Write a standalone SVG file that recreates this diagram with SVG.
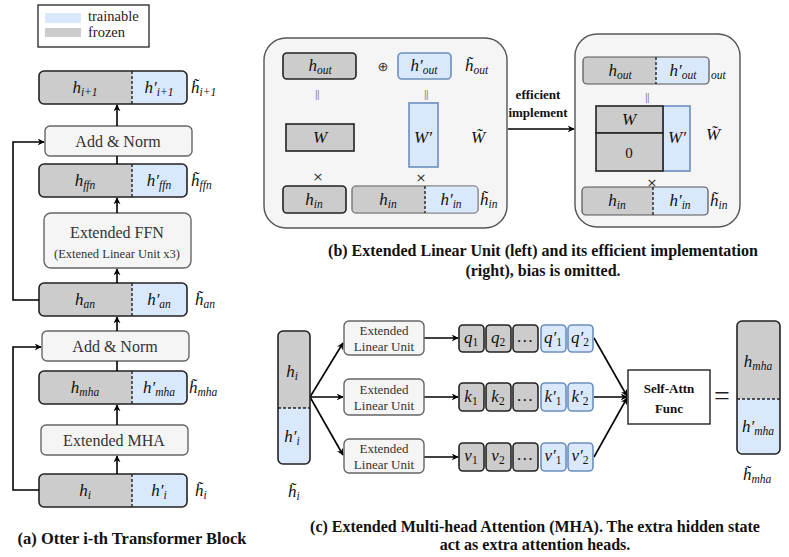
<svg xmlns="http://www.w3.org/2000/svg" width="789" height="557" viewBox="0 0 789 557">
<defs>
<marker id="ah" viewBox="0 0 10 10" refX="9" refY="5" markerWidth="7" markerHeight="7" orient="auto-start-reverse" markerUnits="userSpaceOnUse">
<path d="M0,0 L10,5 L0,10 L3,5 Z" fill="#000"/>
</marker>
<style>
.gr{fill:#cccccc}
.bl{fill:#dae8fc}
.ol{fill:none;stroke:#222;stroke-width:1.6}
.g{fill:#cccccc;stroke:#222;stroke-width:1.6}
.b{fill:#dae8fc;stroke:#6c8ebf;stroke-width:1.6}
.lt{fill:#f5f5f5;stroke:#666;stroke-width:1.4}
.fr{fill:#f5f5f5;stroke:#555;stroke-width:1.4}
.dv{stroke:#222;stroke-width:1.4;stroke-dasharray:3,2}
.m{font-family:"Liberation Serif",serif;font-style:italic;font-size:17px;fill:#111;text-anchor:middle}
.ml{font-family:"Liberation Serif",serif;font-style:italic;font-size:17px;fill:#111;text-anchor:start}
.s{font-size:11.5px}
.t{font-family:"Liberation Serif",serif;fill:#333;text-anchor:middle}
.bd{font-family:"Liberation Serif",serif;font-weight:bold;fill:#111;text-anchor:middle}
.sym{font-family:"DejaVu Sans",sans-serif;font-size:13px;fill:#333;text-anchor:middle}
.eq{font-family:"Liberation Sans",sans-serif;font-size:10px;fill:#888;text-anchor:middle;letter-spacing:-0.5px}
.cn{fill:none;stroke:#000;stroke-width:1.6}
</style>
</defs>
<rect width="789" height="557" fill="#fff"/>

<g id="legend">
<rect x="38" y="5" width="111" height="42" fill="#fff" stroke="#111" stroke-width="1.2"/>
<rect x="45" y="13" width="36" height="10" class="bl"/>
<rect x="45" y="28" width="36" height="9" class="gr"/>
<text x="88" y="21" font-family="Liberation Serif,serif" font-size="14.5" fill="#222">trainable</text>
<text x="88" y="37" font-family="Liberation Serif,serif" font-size="14.5" fill="#222">frozen</text>
</g>

<!-- (a) -->
<g id="h_i1">
<rect x="39" y="71" width="148" height="33" rx="5" class="gr"/>
<path d="M132,71 H182 A5,5 0 0 1 187,76 V99 A5,5 0 0 1 182,104 H132 Z" class="bl"/>
<rect x="39" y="71" width="148" height="33" rx="5" class="ol"/>
<line x1="132" y1="71" x2="132" y2="104" class="dv"/>
<text x="85" y="93" class="m">h<tspan class="s" dy="3">i+1</tspan></text>
<text x="159" y="93" class="m">h′<tspan class="s" dy="3">i+1</tspan></text>
<text x="191" y="93" class="ml">h̃<tspan class="s" dy="3">i+1</tspan></text>
</g>
<g id="addnorm1">
<rect x="45" y="126" width="147" height="30" rx="5" class="lt"/>
<text x="118" y="147" class="t" font-size="16">Add &amp; Norm</text>
</g>
<g id="h_ffn">
<rect x="39" y="164" width="148" height="33" rx="5" class="gr"/>
<path d="M132,164 H182 A5,5 0 0 1 187,169 V192 A5,5 0 0 1 182,197 H132 Z" class="bl"/>
<rect x="39" y="164" width="148" height="33" rx="5" class="ol"/>
<line x1="132" y1="164" x2="132" y2="197" class="dv"/>
<text x="85" y="186" class="m">h<tspan class="s" dy="3">ffn</tspan></text>
<text x="159" y="186" class="m">h′<tspan class="s" dy="3">ffn</tspan></text>
<text x="191" y="186" class="ml">h̃<tspan class="s" dy="3">ffn</tspan></text>
</g>
<g id="extffn">
<rect x="44" y="213" width="147" height="55" rx="7" class="lt"/>
<text x="117" y="238" class="t" font-size="16">Extended FFN</text>
<text x="117" y="258" class="t" font-size="12.5">(Extened Linear Unit x3)</text>
</g>
<g id="h_an">
<rect x="39" y="283" width="148" height="33" rx="5" class="gr"/>
<path d="M132,283 H182 A5,5 0 0 1 187,288 V311 A5,5 0 0 1 182,316 H132 Z" class="bl"/>
<rect x="39" y="283" width="148" height="33" rx="5" class="ol"/>
<line x1="132" y1="283" x2="132" y2="316" class="dv"/>
<text x="85" y="305" class="m">h<tspan class="s" dy="3">an</tspan></text>
<text x="159" y="305" class="m">h′<tspan class="s" dy="3">an</tspan></text>
<text x="195" y="305" class="ml">h̃<tspan class="s" dy="3">an</tspan></text>
</g>
<g id="addnorm2">
<rect x="42" y="331" width="147" height="30" rx="5" class="lt"/>
<text x="115" y="352" class="t" font-size="16">Add &amp; Norm</text>
</g>
<g id="h_mha">
<rect x="39" y="371" width="148" height="33" rx="5" class="gr"/>
<path d="M132,371 H182 A5,5 0 0 1 187,376 V399 A5,5 0 0 1 182,404 H132 Z" class="bl"/>
<rect x="39" y="371" width="148" height="33" rx="5" class="ol"/>
<line x1="132" y1="371" x2="132" y2="404" class="dv"/>
<text x="85" y="393" class="m">h<tspan class="s" dy="3">mha</tspan></text>
<text x="159" y="393" class="m">h′<tspan class="s" dy="3">mha</tspan></text>
<text x="189" y="393" class="ml">h̃<tspan class="s" dy="3">mha</tspan></text>
</g>
<g id="extmha">
<rect x="41" y="425" width="147" height="30" rx="5" class="lt"/>
<text x="114" y="446" class="t" font-size="16">Extended MHA</text>
</g>
<g id="h_i">
<rect x="39" y="474" width="148" height="33" rx="5" class="gr"/>
<path d="M132,474 H182 A5,5 0 0 1 187,479 V502 A5,5 0 0 1 182,507 H132 Z" class="bl"/>
<rect x="39" y="474" width="148" height="33" rx="5" class="ol"/>
<line x1="132" y1="474" x2="132" y2="507" class="dv"/>
<text x="85" y="496" class="m">h<tspan class="s" dy="3">i</tspan></text>
<text x="159" y="496" class="m">h′<tspan class="s" dy="3">i</tspan></text>
<text x="195" y="496" class="ml">h̃<tspan class="s" dy="3">i</tspan></text>
</g>

<g id="connectors">
<line x1="117" y1="126" x2="117" y2="105" class="cn" marker-end="url(#ah)"/>
<line x1="117" y1="156" x2="117" y2="164" class="cn"/>
<line x1="117" y1="213" x2="117" y2="198" class="cn" marker-end="url(#ah)"/>
<line x1="117" y1="283" x2="117" y2="269" class="cn" marker-end="url(#ah)"/>
<line x1="117" y1="331" x2="117" y2="317" class="cn" marker-end="url(#ah)"/>
<line x1="117" y1="361" x2="117" y2="371" class="cn"/>
<line x1="117" y1="425" x2="117" y2="405" class="cn" marker-end="url(#ah)"/>
<line x1="117" y1="474" x2="117" y2="456" class="cn" marker-end="url(#ah)"/>
<polyline points="39,300 13,300 13,142 44,142" class="cn" marker-end="url(#ah)"/>
<polyline points="39,490 13,490 13,347 41,347" class="cn" marker-end="url(#ah)"/>
<line x1="508" y1="129" x2="574" y2="129" class="cn" marker-end="url(#ah)"/>
<line x1="310" y1="397" x2="343" y2="343" class="cn" marker-end="url(#ah)"/>
<line x1="310" y1="397" x2="343" y2="397" class="cn" marker-end="url(#ah)"/>
<line x1="310" y1="397" x2="343" y2="455" class="cn" marker-end="url(#ah)"/>
<line x1="424" y1="338" x2="458" y2="338" class="cn" marker-end="url(#ah)"/>
<line x1="424" y1="397" x2="458" y2="397" class="cn" marker-end="url(#ah)"/>
<line x1="424" y1="457" x2="458" y2="457" class="cn" marker-end="url(#ah)"/>
<line x1="594" y1="338" x2="627" y2="396" class="cn" marker-end="url(#ah)"/>
<line x1="594" y1="397" x2="627" y2="397" class="cn" marker-end="url(#ah)"/>
<line x1="594" y1="457" x2="627" y2="398" class="cn" marker-end="url(#ah)"/>
</g>

<text x="132" y="544" class="bd" font-size="16.5">(a) Otter i-th Transformer Block</text>

<!-- (b) left -->
<g id="elu_frame">
<rect x="264" y="38" width="243" height="190" rx="22" class="fr"/>
<rect x="283" y="53" width="73" height="26" rx="4" class="g"/>
<text x="320" y="71" class="m">h<tspan class="s" dy="3">out</tspan></text>
<text x="383" y="71" class="sym" font-size="14">⊕</text>
<rect x="398" y="53" width="53" height="26" rx="4" class="b"/>
<text x="424" y="71" class="m">h′<tspan class="s" dy="3">out</tspan></text>
<text x="465" y="71" class="ml">h̃<tspan class="s" dy="3">out</tspan></text>
<text x="317" y="98" class="eq">||</text>
<text x="426" y="98" class="eq">||</text>
<rect x="286" y="124" width="68" height="27" class="g"/>
<text x="320" y="143" class="m">W</text>
<rect x="409" y="103" width="29" height="64" class="b"/>
<text x="423" y="143" class="m">W′</text>
<text x="471" y="143" class="ml">W̃</text>
<text x="318" y="181" class="sym" font-size="14">×</text>
<text x="421" y="182" class="sym" font-size="14">×</text>
<rect x="283" y="186" width="63" height="27" rx="4" class="g"/>
<text x="314" y="205" class="m">h<tspan class="s" dy="3">in</tspan></text>
<rect x="352" y="186" width="126" height="27" rx="4" class="gr" stroke="#888" stroke-width="1.2"/>
<path d="M425,186 H474 A4,4 0 0 1 478,190 V209 A4,4 0 0 1 474,213 H425 Z" class="bl"/>
<rect x="352" y="186" width="126" height="27" rx="4" fill="none" stroke="#888" stroke-width="1.2"/>
<line x1="425" y1="186" x2="425" y2="213" class="dv"/>
<text x="388" y="205" class="m">h<tspan class="s" dy="3">in</tspan></text>
<text x="451" y="205" class="m">h′<tspan class="s" dy="3">in</tspan></text>
<text x="480" y="205" class="ml">h̃<tspan class="s" dy="3">in</tspan></text>
</g>

<g id="arrow_label">
<rect x="509" y="86" width="62" height="36" fill="#fff"/>
<text x="538" y="99" class="bd" font-size="13">efficient</text>
<text x="538" y="117" class="bd" font-size="13">implement</text>
</g>

<!-- (b) right -->
<g id="eff_frame">
<rect x="575" y="34" width="165" height="193" rx="22" class="fr"/>
<rect x="583" y="57" width="126" height="27" rx="4" class="gr"/>
<path d="M656,57 H705 A4,4 0 0 1 709,61 V80 A4,4 0 0 1 705,84 H656 Z" class="bl"/>
<rect x="583" y="57" width="126" height="27" rx="4" fill="none" stroke="#555" stroke-width="1.2"/>
<line x1="656" y1="57" x2="656" y2="84" class="dv"/>
<text x="620" y="76" class="m">h<tspan class="s" dy="3">out</tspan></text>
<text x="683" y="76" class="m">h′<tspan class="s" dy="3">out</tspan></text>
<text x="711" y="79" font-family="Liberation Serif,serif" font-style="italic" font-size="11.5" fill="#111">out</text>
<text x="647" y="101" class="eq">||</text>
<rect x="663" y="106" width="27" height="65" class="b"/>
<rect x="596" y="106" width="67" height="27" class="g" stroke-width="2"/>
<rect x="596" y="133" width="67" height="38" class="g" stroke-width="2"/>
<text x="629" y="125" class="m">W</text>
<text x="629" y="158" font-family="Liberation Serif,serif" font-size="15" fill="#111" text-anchor="middle">0</text>
<text x="677" y="143" class="m">W′</text>
<text x="706" y="140" class="ml">W̃</text>
<rect x="582" y="187" width="126" height="28" rx="4" class="gr"/>
<path d="M653,187 H704 A4,4 0 0 1 708,191 V211 A4,4 0 0 1 704,215 H653 Z" class="bl"/>
<rect x="582" y="187" width="126" height="28" rx="4" fill="none" stroke="#555" stroke-width="1.2"/>
<line x1="653" y1="187" x2="653" y2="215" class="dv"/>
<text x="652" y="187" class="sym" font-size="14">×</text>
<text x="617" y="206" class="m">h<tspan class="s" dy="3">in</tspan></text>
<text x="680" y="206" class="m">h′<tspan class="s" dy="3">in</tspan></text>
<text x="710" y="206" class="ml">h̃<tspan class="s" dy="3">in</tspan></text>
</g>

<text x="543" y="256" class="bd" font-size="16">(b) Extended Linear Unit (left) and its efficient implementation</text>
<text x="543" y="276" class="bd" font-size="16">(right), bias is omitted.</text>

<!-- (c) -->
<g id="hi_vec">
<rect x="278" y="331" width="32" height="133" rx="5" class="gr"/>
<path d="M278,408 H310 V459 A5,5 0 0 1 305,464 H283 A5,5 0 0 1 278,459 Z" class="bl"/>
<rect x="278" y="331" width="32" height="133" rx="5" class="ol"/>
<line x1="278" y1="408" x2="310" y2="408" class="dv"/>
<text x="292" y="377" class="m">h<tspan class="s" dy="3">i</tspan></text>
<text x="292" y="442" class="m">h′<tspan class="s" dy="3">i</tspan></text>
<text x="288" y="497" class="ml">h̃<tspan class="s" dy="3">i</tspan></text>
</g>
<g id="elu_q">
<rect x="344" y="321" width="80" height="34" rx="5" class="lt"/>
<text x="384" y="335" class="t" font-size="13">Extended</text>
<text x="384" y="351" class="t" font-size="13">Linear Unit</text>
</g>
<g id="elu_k">
<rect x="344" y="379" width="80" height="36" rx="5" class="lt"/>
<text x="384" y="394" class="t" font-size="13">Extended</text>
<text x="384" y="410" class="t" font-size="13">Linear Unit</text>
</g>
<g id="elu_v">
<rect x="344" y="439" width="80" height="34" rx="5" class="lt"/>
<text x="384" y="453" class="t" font-size="13">Extended</text>
<text x="384" y="469" class="t" font-size="13">Linear Unit</text>
</g>
<g id="q_row">
<rect x="459" y="325" width="25" height="27" rx="4" class="g"/>
<rect x="486" y="325" width="25" height="27" rx="4" class="g"/>
<rect x="513" y="325" width="25" height="27" rx="4" class="g"/>
<rect x="541" y="325" width="25" height="27" rx="4" class="b"/>
<rect x="568" y="325" width="25" height="27" rx="4" class="b"/>
<text x="471" y="343" class="m" font-size="15">q<tspan class="s" font-size="10" font-style="normal" dy="3">1</tspan></text>
<text x="498" y="343" class="m" font-size="15">q<tspan class="s" font-size="10" font-style="normal" dy="3">2</tspan></text>
<text x="525" y="342" class="m" font-style="normal" font-size="14">…</text>
<text x="553" y="343" class="m" font-size="15">q′<tspan class="s" font-size="10" font-style="normal" dy="3">1</tspan></text>
<text x="580" y="343" class="m" font-size="15">q′<tspan class="s" font-size="10" font-style="normal" dy="3">2</tspan></text>
</g>
<g id="k_row">
<rect x="459" y="383" width="25" height="28" rx="4" class="g"/>
<rect x="486" y="383" width="25" height="28" rx="4" class="g"/>
<rect x="513" y="383" width="25" height="28" rx="4" class="g"/>
<rect x="541" y="383" width="25" height="28" rx="4" class="b"/>
<rect x="568" y="383" width="25" height="28" rx="4" class="b"/>
<text x="471" y="402" class="m" font-size="15">k<tspan class="s" font-size="10" font-style="normal" dy="3">1</tspan></text>
<text x="498" y="402" class="m" font-size="15">k<tspan class="s" font-size="10" font-style="normal" dy="3">2</tspan></text>
<text x="525" y="401" class="m" font-style="normal" font-size="14">…</text>
<text x="553" y="402" class="m" font-size="15">k′<tspan class="s" font-size="10" font-style="normal" dy="3">1</tspan></text>
<text x="580" y="402" class="m" font-size="15">k′<tspan class="s" font-size="10" font-style="normal" dy="3">2</tspan></text>
</g>
<g id="v_row">
<rect x="459" y="443" width="25" height="28" rx="4" class="g"/>
<rect x="486" y="443" width="25" height="28" rx="4" class="g"/>
<rect x="513" y="443" width="25" height="28" rx="4" class="g"/>
<rect x="541" y="443" width="25" height="28" rx="4" class="b"/>
<rect x="568" y="443" width="25" height="28" rx="4" class="b"/>
<text x="471" y="461" class="m" font-size="15">v<tspan class="s" font-size="10" font-style="normal" dy="3">1</tspan></text>
<text x="498" y="461" class="m" font-size="15">v<tspan class="s" font-size="10" font-style="normal" dy="3">2</tspan></text>
<text x="525" y="460" class="m" font-style="normal" font-size="14">…</text>
<text x="553" y="461" class="m" font-size="15">v′<tspan class="s" font-size="10" font-style="normal" dy="3">1</tspan></text>
<text x="580" y="461" class="m" font-size="15">v′<tspan class="s" font-size="10" font-style="normal" dy="3">2</tspan></text>
</g>
<g id="selfattn">
<rect x="628" y="370" width="82" height="54" fill="#fff" stroke="#222" stroke-width="1.4"/>
<text x="669" y="393" class="bd" font-size="13">Self-Attn</text>
<text x="669" y="413" class="bd" font-size="13">Func</text>
</g>
<text x="722" y="405" font-family="Liberation Serif,serif" font-size="28" fill="#222" text-anchor="middle">=</text>
<g id="hmha_vec">
<rect x="737" y="321" width="43" height="133" rx="5" class="gr"/>
<path d="M737,399 H780 V449 A5,5 0 0 1 775,454 H742 A5,5 0 0 1 737,449 Z" class="bl"/>
<rect x="737" y="321" width="43" height="133" rx="5" class="ol"/>
<line x1="737" y1="399" x2="780" y2="399" class="dv"/>
<text x="758" y="367" class="m">h<tspan class="s" dy="3">mha</tspan></text>
<text x="758" y="432" class="m">h′<tspan class="s" dy="3">mha</tspan></text>
<text x="743" y="480" class="ml">h̃<tspan class="s" dy="3">mha</tspan></text>
</g>

<text x="535" y="532" class="bd" font-size="16">(c) Extended Multi-head Attention (MHA). The extra hidden state</text>
<text x="535" y="550" class="bd" font-size="16">act as extra attention heads.</text>
</svg>
